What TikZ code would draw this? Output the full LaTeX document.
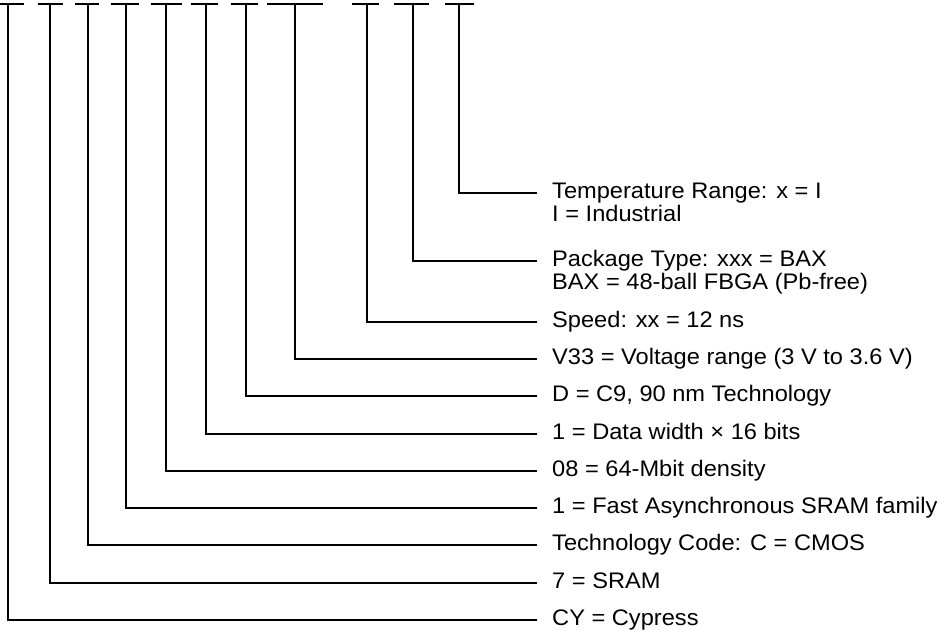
\documentclass[tikz,border=0pt]{standalone}
\usepackage{fontspec}
\setmainfont{Liberation Sans}[FakeStretch=1.05]
\usetikzlibrary{positioning}
\tikzset{
  field/.style={line width=1.6pt},
  lead/.style={line width=1.3pt},
  codetext/.style={anchor=base west, inner sep=0pt, align=left,
    font=\fontsize{22.5}{23}\selectfont},
}
\begin{document}
\begin{tikzpicture}[x=1pt,y=-1pt]
    \useasboundingbox (0,0) rectangle (945,632);
    \draw[field] (-4,4) -- (24,4);
    \draw[field] (38,4) -- (63,4);
    \draw[field] (75,4) -- (99,4);
    \draw[field] (111,4) -- (139,4);
    \draw[field] (151,4) -- (182,4);
    \draw[field] (191,4) -- (218,4);
    \draw[field] (231,4) -- (258,4);
    \draw[field] (267,4) -- (323,4);
    \draw[field] (352,4) -- (379,4);
    \draw[field] (394,4) -- (429,4);
    \draw[field] (445,4) -- (474,4);
    \coordinate (cy) at (8,4);
    \coordinate (sram) at (50,4);
    \coordinate (tech) at (88,4);
    \coordinate (family) at (126,4);
    \coordinate (density) at (166,4);
    \coordinate (width) at (206,4);
    \coordinate (process) at (246,4);
    \coordinate (voltage) at (295,4);
    \coordinate (speed) at (367,4);
    \coordinate (package) at (413,4);
    \coordinate (temp) at (459,4);
    \coordinate (temp-end) at (537,193);
    \coordinate (package-end) at (537,261);
    \coordinate (speed-end) at (537,322);
    \coordinate (voltage-end) at (537,359);
    \coordinate (process-end) at (537,396);
    \coordinate (width-end) at (537,434);
    \coordinate (density-end) at (537,471);
    \coordinate (family-end) at (537,508);
    \coordinate (tech-end) at (537,545);
    \coordinate (sram-end) at (537,583);
    \coordinate (cy-end) at (537,620);
    \node[codetext] (temp-txt) at (552,221.5) {Temperature Range: x = I\\I = Industrial};
    \node[codetext] (package-txt) at (552,289.5) {Package Type: xxx = BAX\\BAX = 48-ball FBGA (Pb-free)};
    \node[codetext] (speed-txt) at (552,327.5) {Speed: xx = 12 ns};
    \node[codetext] (voltage-txt) at (552,364.5) {V33 = Voltage range (3 V to 3.6 V)};
    \node[codetext] (process-txt) at (552,401.5) {D = C9, 90 nm Technology};
    \node[codetext] (width-txt) at (552,439.5) {1 = Data width × 16 bits};
    \node[codetext] (density-txt) at (552,476.5) {08 = 64-Mbit density};
    \node[codetext] (family-txt) at (552,513.5) {1 = Fast Asynchronous SRAM family};
    \node[codetext] (tech-txt) at (552,550.5) {Technology Code: C = CMOS};
    \node[codetext] (sram-txt) at (552,588.5) {7 = SRAM};
    \node[codetext] (cy-txt) at (552,625.5) {CY = Cypress};
    \draw[lead] (temp) |- (temp-end);
    \draw[lead] (package) |- (package-end);
    \draw[lead] (speed) |- (speed-end);
    \draw[lead] (voltage) |- (voltage-end);
    \draw[lead] (process) |- (process-end);
    \draw[lead] (width) |- (width-end);
    \draw[lead] (density) |- (density-end);
    \draw[lead] (family) |- (family-end);
    \draw[lead] (tech) |- (tech-end);
    \draw[lead] (sram) |- (sram-end);
    \draw[lead] (cy) |- (cy-end);
\end{tikzpicture}
\end{document}
